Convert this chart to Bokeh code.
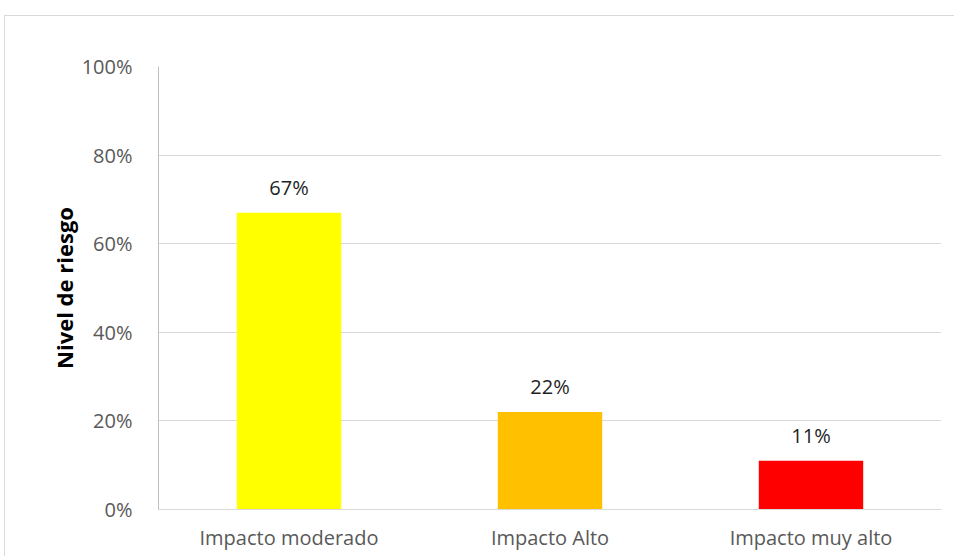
from bokeh.plotting import figure
from bokeh.models import ColumnDataSource, FactorRange, NumeralTickFormatter, FixedTicker, Range1d
from bokeh.core.properties import value
from bokeh.embed import file_html
from bokeh.resources import INLINE

# Risk level by impact category
categories = ["Impacto moderado", "Impacto Alto", "Impacto muy alto"]
values = [0.67, 0.22, 0.11]
colors = ["#FFFF00", "#FFC000", "#FF0000"]
y_ticks = [0, 0.2, 0.4, 0.6, 0.8, 1.0]

labels = [f"{round(v * 100)}%" for v in values]
source = ColumnDataSource(dict(cat=categories, val=values, color=colors, label=labels))

FONT = "Open Sans"

p = figure(
    x_range=FactorRange(*categories, range_padding=0),
    y_range=Range1d(0, 1),
    width=950, height=541,
    output_backend="svg", toolbar_location=None,
    min_border_left=153, min_border_right=14,
    min_border_top=50, min_border_bottom=48,
)
p.margin = (15, 0, 0, 4)
p.styles = {"border-top": "1px solid #d9d9d9", "border-left": "1px solid #d9d9d9"}
p.outline_line_color = None

p.vbar(x="cat", top="val", width=0.4, color="color", line_color=None, source=source)

# value labels above each bar
p.text(x="cat", y="val", text="label", source=source,
       text_align="center", text_baseline="bottom", y_offset=-12,
       text_font=value(FONT), text_font_size="20px", text_color="#1f1f1f")

# y axis
p.yaxis.ticker = FixedTicker(ticks=y_ticks)
p.yaxis.formatter = NumeralTickFormatter(format="0%")
p.yaxis.axis_label = "Nivel de riesgo"
p.yaxis.axis_label_text_font = FONT
p.yaxis.axis_label_text_font_style = "bold"
p.yaxis.axis_label_text_font_size = "22px"
p.yaxis.axis_label_text_color = "#000000"
p.yaxis.axis_label_standoff = 0
p.yaxis.axis_line_color = "#bfbfbf"
p.yaxis.major_tick_line_color = None
p.yaxis.minor_tick_line_color = None
p.yaxis.major_label_standoff = 20
p.yaxis.major_label_text_font = FONT
p.yaxis.major_label_text_font_size = "20px"
p.yaxis.major_label_text_color = "#595959"

# x axis
p.xaxis.axis_line_color = "#d9d9d9"
p.xaxis.major_tick_line_color = None
p.xaxis.minor_tick_line_color = None
p.xaxis.major_label_standoff = 8
p.xaxis.major_label_text_font = FONT
p.xaxis.major_label_text_font_size = "20px"
p.xaxis.major_label_text_color = "#595959"

p.xgrid.grid_line_color = None
p.ygrid.grid_line_color = "#d9d9d9"
p.ygrid.grid_line_width = 1

open("out.html", "w").write(file_html(p, INLINE))
